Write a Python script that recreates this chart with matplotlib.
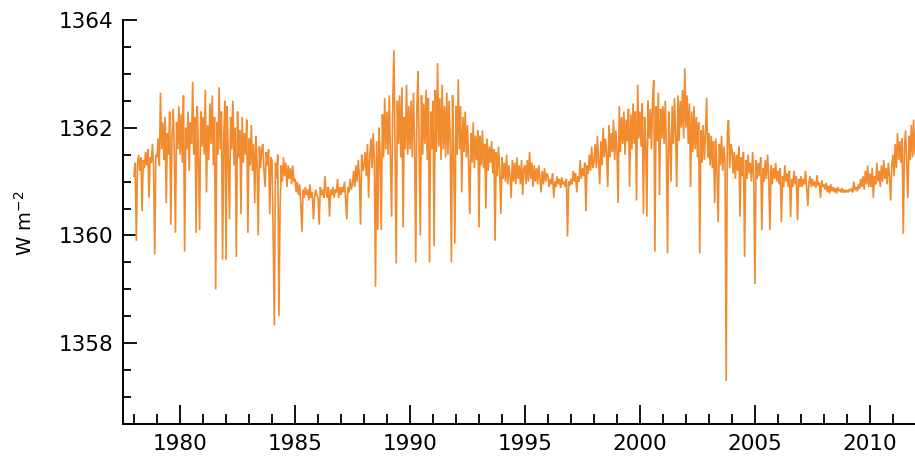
#!/usr/bin/env python3
"""Daily total solar irradiance composite, 1978-2012."""

import matplotlib
matplotlib.use("Agg")
import matplotlib.pyplot as plt
import numpy as np
from matplotlib.ticker import MultipleLocator

START_YEAR = 1978.0
STEP = 0.05
OFFSET = 1360.0

tsi_1978_1984 = [
    1.10, 1.35, -0.10, 1.30, 1.50, 1.20, 1.45, 0.45, 1.40, 1.25,
    1.55, 1.30, 1.60, 0.70, 1.45, 1.35, 1.70, 1.25, -0.35, 1.50,
    1.45, 1.80, 1.30, 2.65, 1.60, 2.10, 1.40, 2.20, 0.60, 1.90,
    1.50, 2.30, 0.20, 1.85, 2.35, 1.55, 0.05, 2.10, 1.60, 2.40,
    1.50, 2.25, 1.35, 2.60, -0.30, 2.00, 1.60, 2.30, 1.20, 2.10,
    1.70, 2.85, 1.50, 2.20, 0.05, 2.40, 1.45, 0.10, 2.30, 1.65,
    2.20, 1.50, 2.70, 0.80, 2.05, 1.40, 2.45, 1.70, 2.60, 1.30,
    2.20, -1.00, 2.10, 1.50, 2.75, 1.60, 2.30, -0.45, 1.80, 2.50,
    -0.45, 2.40, 1.40, 0.30, 2.20, 1.60, 2.50, 1.30, 2.00, -0.40,
    2.30, 1.45, 1.95, 0.40, 2.20, 1.35, 1.90, 1.50, 2.15, 0.05,
    1.80, 1.30, 2.05, 1.20, 1.70, 0.60, 1.85, 1.35, 0.00, 1.65,
    1.25, 1.60, 1.70, 1.20, 0.90, 1.55, 1.30, 1.60, 0.40, 1.45,
    1.40, 0.00, -1.67, 1.35, 1.05, 1.50, -1.50, 0.50, 1.30, 1.00,
    1.45, 1.10, 1.35, 0.90, 1.30, 1.05, 1.25, 0.95, 1.30, 1.00,
]

tsi_1985_1991 = [
    1.05, 0.80, 1.00, 0.75, 0.95, 0.60, 0.07, 0.85, 0.70, 0.90,
    0.75, 0.85, 0.65, 0.95, 0.70, 0.80, 0.30, 0.70, 0.85, 0.75,
    0.70, 0.20, 0.90, 0.75, 0.85, 0.70, 1.10, 0.80, 0.70, 0.90,
    0.35, 0.85, 0.75, 0.90, 0.70, 0.85, 0.80, 1.05, 0.70, 0.90,
    0.75, 0.90, 0.80, 1.00, 0.70, 0.30, 0.90, 0.80, 1.05, 0.85,
    0.95, 1.20, 0.90, 1.30, 1.00, 1.40, 1.10, 0.20, 1.50, 1.20,
    1.30, 1.55, 1.10, 1.70, 0.70, 1.45, 1.80, 1.25, 1.90, 1.40,
    -0.95, 1.75, 0.10, 2.00, 1.50, 0.10, 2.25, 1.45, 2.55, 1.60,
    2.30, 1.50, 2.60, 1.40, 0.35, 2.45, 3.44, 1.60, -0.52, 2.50,
    1.70, 2.60, 1.45, 2.75, 0.15, 2.20, 1.60, 2.80, 1.50, 2.40,
    1.60, 2.50, 1.45, 2.65, 1.70, -0.50, 2.40, 3.05, 1.55, 0.00,
    2.60, 1.50, 2.45, 1.70, 2.70, 1.40, 2.55, -0.50, 2.30, 1.60,
    2.50, -0.20, 2.70, 1.55, 3.20, 1.65, 2.55, 1.40, 2.80, 1.60,
    2.40, 1.45, 2.65, 1.50, 2.50, 1.70, -0.50, 2.60, 1.50, -0.15,
]

tsi_1992_1998 = [
    2.40, 1.50, 2.90, 1.60, 2.40, 0.80, 2.20, 1.55, 2.30, 1.45,
    2.05, 1.30, 0.40, 1.90, 1.35, 2.10, 1.25, 1.85, 1.40, 1.95,
    0.15, 1.85, 1.30, 1.95, 1.25, 1.70, 0.50, 1.80, 1.20, 1.65,
    1.35, 1.75, 1.15, 1.60, -0.10, 1.55, 1.10, 1.65, 1.20, 0.40,
    1.45, 1.05, 1.35, 1.00, 1.50, 0.95, 1.30, 1.10, 0.70, 1.40,
    1.00, 1.35, 0.95, 1.45, 1.05, 1.30, 0.95, 1.40, 0.75, 1.25,
    1.30, 0.95, 1.40, 1.00, 1.55, 1.05, 1.35, 0.90, 1.30, 1.00,
    1.25, 0.95, 1.30, 1.05, 0.80, 1.20, 0.95, 1.25, 1.00, 1.15,
    1.10, 0.90, 1.05, 0.95, 1.15, 0.70, 1.00, 0.90, 1.10, 0.95,
    1.05, 0.88, 1.08, 0.95, 1.00, 0.90, 1.05, -0.02, 1.00, 0.92,
    1.05, 0.95, 1.20, 1.00, 1.15, 0.80, 1.10, 1.00, 1.40, 1.05,
    1.25, 1.10, 1.35, 0.45, 1.30, 1.15, 1.50, 1.20, 1.65, 1.25,
    1.35, 1.70, 1.25, 1.85, 1.40, 0.95, 1.75, 1.30, 2.00, 1.45,
    1.80, 1.50, 0.90, 2.05, 1.45, 1.90, 1.55, 2.15, 1.40, 1.95,
]

tsi_1999_2005 = [
    1.60, 0.60, 2.40, 1.55, 2.20, 1.70, 2.30, 1.50, 2.15, 1.75,
    2.35, 0.90, 2.25, 1.60, 2.45, 1.70, 2.30, 0.65, 2.80, 1.80,
    2.30, 1.65, 2.45, 0.40, 2.20, 1.70, 0.35, 2.50, 1.80, 2.35,
    1.60, 2.55, 2.88, -0.30, 2.40, 1.75, 2.65, 0.75, 2.35, 1.80,
    2.40, 1.70, 2.50, 1.60, -0.33, 2.30, 1.80, 1.00, 2.40, 1.70,
    2.55, 1.85, 0.90, 2.60, 1.75, 2.50, 2.00, 2.70, 1.80, 3.10,
    2.00, 2.60, 1.70, 2.45, 0.90, 2.30, 1.55, 2.40, 1.60, 2.20,
    1.45, 2.10, -0.33, 1.95, 1.35, 2.05, 1.40, 1.90, 2.55, 1.45,
    1.90, 1.30, 1.85, 1.25, 1.75, 0.60, 1.80, 1.20, 0.25, 1.70,
    1.30, 1.85, 1.20, 1.65, 1.35, -2.70, 1.90, 2.14, 1.25, 1.70,
    1.60, 1.15, 1.55, 1.05, 1.50, 1.20, 1.65, 0.35, 1.45, 1.10,
    1.55, -0.40, 1.40, 1.05, 1.50, 1.15, 1.35, 1.00, 1.55, 1.10,
    -0.90, 1.40, 1.05, 1.35, 1.10, 1.45, 0.10, 1.25, 1.00, 1.40,
    1.05, 1.50, 1.10, 0.10, 1.30, 0.95, 1.25, 1.05, 1.35, 1.00,
]

tsi_2006_2012 = [
    1.20, 0.95, 1.25, 0.25, 1.10, 0.90, 1.30, 1.00, 1.15, 0.90,
    1.20, 0.34, 1.05, 0.90, 1.20, 0.95, 1.10, 0.28, 1.05, 0.90,
    1.10, 0.90, 1.05, 0.95, 1.20, 0.88, 0.55, 1.00, 1.10, 0.90,
    1.05, 0.92, 1.00, 0.88, 1.12, 0.93, 0.98, 0.70, 1.02, 0.90,
    0.95, 0.85, 0.98, 0.80, 0.92, 0.78, 0.95, 0.82, 0.90, 0.80,
    0.88, 0.78, 0.90, 0.82, 0.86, 0.80, 0.88, 0.79, 0.85, 0.80,
    0.84, 0.80, 0.86, 0.82, 0.88, 0.80, 1.00, 0.84, 0.90, 0.82,
    0.95, 0.86, 1.05, 0.90, 1.10, 0.85, 1.20, 0.95, 1.30, 0.90,
    1.15, 0.90, 1.25, 0.70, 1.10, 0.95, 1.35, 1.00, 1.20, 0.90,
    1.30, 1.00, 1.40, 1.05, 1.25, 0.95, 1.35, 1.10, 0.65, 1.30,
    1.50, 1.10, 1.70, 1.25, 1.90, 1.40, 1.75, 1.35, 1.80, 0.03,
    1.60, 1.95, 1.35, 0.70, 1.85, 1.40, 2.05, 1.45, 2.15, 1.50,
    1.85,
]

XLIM = (1977.52, 2011.96)
YLIM = (1356.5, 1364.0)
LINE_COLOR = "#F28A2E"


def main():
    tsi = OFFSET + np.concatenate([tsi_1978_1984, tsi_1985_1991, tsi_1992_1998,
                                   tsi_1999_2005, tsi_2006_2012])
    years = START_YEAR + STEP * np.arange(len(tsi))

    fig = plt.figure(figsize=(9.15, 4.59), dpi=100)
    ax = fig.add_axes([123 / 915, 35 / 459, 1 - 123 / 915, 404 / 459])

    ax.plot(years, tsi, color=LINE_COLOR, linewidth=1.2, solid_joinstyle="miter")

    ax.set_xlim(*XLIM)
    ax.set_ylim(*YLIM)

    ax.xaxis.set_major_locator(MultipleLocator(5))
    ax.xaxis.set_minor_locator(MultipleLocator(1))
    ax.yaxis.set_minor_locator(MultipleLocator(0.5))
    ax.set_yticks([1358, 1360, 1362, 1364])

    for side in ("top", "right"):
        ax.spines[side].set_visible(False)
    for side in ("left", "bottom"):
        ax.spines[side].set_linewidth(1.4)

    ax.tick_params(axis="x", which="major", direction="in", length=14, width=1.3,
                   pad=7, labelsize=15.5)
    ax.tick_params(axis="x", which="minor", direction="in", length=7.5, width=1.3)
    ax.tick_params(axis="y", which="major", direction="in", length=10, width=1.3,
                   pad=7, labelsize=15.5)
    ax.tick_params(axis="y", which="minor", direction="in", length=6, width=1.3)

    fig.text(25 / 915, 1 - 223 / 459, "W m$^{-2}$", rotation=90,
             ha="center", va="center", fontsize=14)

    fig.savefig("out.png", dpi=100)
    plt.close(fig)


if __name__ == "__main__":
    main()
